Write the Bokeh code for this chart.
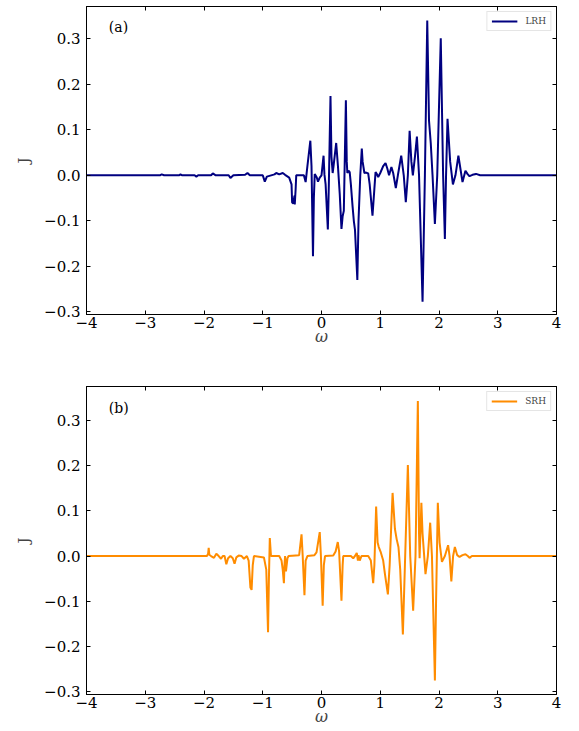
from bokeh.plotting import figure
from bokeh.models import (Range1d, FixedTicker, LinearAxis, Label, Legend, LegendItem,
                          CustomJSTickFormatter, CustomLabelingPolicy)
from bokeh.layouts import column
from bokeh.embed import file_html
from bokeh.resources import INLINE

# ---- data ----
lrh_w = [-4.0, -2.75, -2.72, -2.68, -2.42, -2.40, -2.37, -2.16, -2.13, -2.10, -1.88, -1.85, -1.80,
         -1.58, -1.55, -1.50, -1.30, -1.26, -1.22, -1.00, -0.965, -0.93, -0.80, -0.77, -0.72, -0.66,
         -0.62, -0.55, -0.51, -0.50, -0.48, -0.46, -0.455, -0.44, -0.43, -0.30, -0.27, -0.24, -0.19,
         -0.17, -0.145, -0.13, -0.115, -0.08, -0.06, -0.03, 0.0, 0.035, 0.05, 0.07, 0.108, 0.125,
         0.153, 0.17, 0.19, 0.205, 0.25, 0.28, 0.31, 0.34, 0.36, 0.38, 0.415, 0.43, 0.44, 0.46, 0.48,
         0.50, 0.53, 0.55, 0.57, 0.61, 0.63, 0.66, 0.686, 0.70, 0.73, 0.76, 0.795, 0.82, 0.868, 0.90,
         0.92, 0.945, 0.965, 1.00, 1.05, 1.09, 1.12, 1.15, 1.19, 1.22, 1.265, 1.30, 1.357, 1.40,
         1.435, 1.47, 1.50, 1.53, 1.555, 1.59, 1.624, 1.66, 1.72, 1.76, 1.80, 1.83, 1.86, 1.89, 1.93,
         1.97, 2.03, 2.07, 2.10, 2.12, 2.145, 2.19, 2.237, 2.28, 2.33, 2.37, 2.40, 2.43, 2.45, 2.49,
         2.52, 2.57, 2.63, 2.70, 4.0]
lrh_j = [0.0, 0.0, 0.002, 0.0, 0.0, 0.002, 0.0, 0.0, -0.003, 0.0, 0.0, 0.004, 0.0,
         0.0, -0.006, 0.0, 0.001, 0.005, 0.0, 0.0, -0.014, -0.003, 0.002, 0.005, 0.002, 0.005,
         0.001, -0.005, -0.02, -0.06, -0.062, -0.045, -0.064, -0.03, 0.0, 0.0, -0.015, 0.02, 0.076,
         0.02, -0.178, -0.05, 0.003, -0.005, -0.014, -0.005, 0.0, 0.043, 0.002, -0.02, -0.119, -0.02,
         0.174, 0.04, 0.005, 0.02, 0.071, 0.02, -0.04, -0.118, -0.09, -0.078, 0.165, 0.03, 0.005, 0.01, 0.007,
         -0.02, -0.07, -0.1, -0.12, -0.23, -0.1, 0.0, 0.059, 0.03, 0.005, 0.006, 0.004, -0.02, -0.089, -0.03,
         0.007, 0.002, -0.004, 0.005, 0.02, 0.027, 0.015, 0.0, 0.018, 0.005, -0.028, 0.0, 0.043, 0.0,
         -0.059, 0.0, 0.098, 0.03, 0.0, 0.04, 0.085, 0.0, -0.278, 0.0, 0.34, 0.12, 0.07, 0.0, -0.107,
         0.0, 0.301, 0.0, -0.14, 0.0, 0.124, 0.03, -0.02, 0.0, 0.043, 0.01, -0.015, 0.0, 0.01, 0.002,
         -0.002, 0.001, 0.003, 0.0, 0.0]

srh_w = [-4.0, -1.95, -1.93, -1.92, -1.91, -1.88, -1.83, -1.79, -1.75, -1.71, -1.68, -1.65, -1.62,
         -1.59, -1.55, -1.51, -1.48, -1.45, -1.41, -1.36, -1.32, -1.27, -1.24, -1.21, -1.19, -1.17,
         -1.15, -0.98, -0.94, -0.91, -0.895, -0.88, -0.86, -0.72, -0.68, -0.66, -0.64, -0.63, -0.62,
         -0.605, -0.58, -0.56, -0.38, -0.34, -0.32, -0.29, -0.27, -0.24, -0.12, -0.085, -0.03, -0.01,
         0.02, 0.04, 0.06, 0.20, 0.24, 0.277, 0.30, 0.34, 0.36, 0.37, 0.50, 0.54, 0.58, 0.60, 0.62,
         0.63, 0.65, 0.68, 0.795, 0.84, 0.88, 0.90, 0.93, 0.955, 0.975, 1.005, 1.05, 1.08, 1.13, 1.16,
         1.21, 1.25, 1.28, 1.31, 1.34, 1.385, 1.42, 1.47, 1.51, 1.56, 1.60, 1.64, 1.66, 1.67, 1.70,
         1.72, 1.77, 1.81, 1.85, 1.88, 1.93, 1.95, 1.98, 2.01, 2.05, 2.10, 2.155, 2.18, 2.21, 2.24,
         2.27, 2.31, 2.35, 2.40, 2.45, 2.49, 2.52, 2.56, 2.59, 4.0]
srh_j = [0.0, 0.0, 0.005, 0.018, 0.003, 0.0, -0.004, 0.005, 0.0, -0.006, 0.0, 0.0, -0.018,
         -0.005, 0.0, -0.005, -0.017, -0.003, 0.001, 0.0, -0.006, 0.0, -0.01, -0.07, -0.075, -0.02,
         0.0, -0.003, -0.03, -0.169, -0.05, 0.04, 0.0, 0.0, -0.01, -0.03, -0.06, -0.02, 0.0,
         -0.034, -0.005, 0.0, 0.002, 0.048, 0.0, -0.087, -0.01, 0.0, 0.002, 0.008, 0.053, 0.0,
         -0.11, -0.02, 0.0, 0.001, 0.01, 0.031, 0.01, -0.099, -0.02, 0.0, 0.0, -0.005, 0.002, 0.007, -0.01,
         0.002, -0.01, 0.0, 0.0, -0.01, -0.06, -0.02, 0.11, 0.03, 0.02, 0.01, -0.01, -0.04, -0.085, -0.02,
         0.14, 0.06, 0.037, 0.02, -0.03, -0.174, -0.02, 0.202, 0.0, -0.121, 0.0, 0.344, 0.05, -0.005, 0.118,
         0.05, -0.04, 0.0, 0.074, 0.0, -0.276, -0.1, 0.118, 0.03, -0.013, 0.0, 0.024, 0.0, -0.056, 0.0,
         0.02, 0.002, -0.002, 0.002, 0.004, 0.0, -0.004, 0.0, 0.0, 0.0]

x_ticks = [-4, -3, -2, -1, 0, 1, 2, 3, 4]
y_ticks = [-0.3, -0.2, -0.1, 0.0, 0.1, 0.2, 0.3]

FONT = "DejaVu Serif"

yfmt_code = "const a = Math.abs(tick).toFixed(1); return (tick < -1e-9 ? '\\u2212' : '') + a;"
xfmt_code = "const a = Math.abs(Math.round(tick)); return (tick < -1e-9 ? '\\u2212' : '') + a;"
hide_code = "for (const i of Array.from(indices)) { indices.set(i, false) } return indices;"


def style_axis(ax, show_labels):
    ax.major_tick_in = 4
    ax.major_tick_out = 0
    ax.minor_tick_in = 0
    ax.minor_tick_out = 0
    ax.axis_line_color = "black"
    ax.axis_line_width = 1
    ax.major_tick_line_color = "black"
    if show_labels:
        ax.major_label_text_font = FONT
        ax.major_label_text_font_size = "15px"
        ax.major_label_text_color = "black"
    else:
        ax.major_label_text_font_size = "1px"
        ax.major_label_standoff = 0
        ax.major_label_policy = CustomLabelingPolicy(code=hide_code)


def make_panel(w, j, color, name, tag, yr, height, bt, bb, tag_y):
    p = figure(width=568, height=height, output_backend="svg", toolbar_location=None,
               x_range=Range1d(-4, 4), y_range=Range1d(*yr),
               min_border_left=86, min_border_right=12, min_border_top=bt, min_border_bottom=bb)
    p.xgrid.visible = False
    p.ygrid.visible = False
    p.outline_line_color = "black"
    p.outline_line_width = 1
    r = p.line(w, j, line_color=color, line_width=2)

    xa = p.xaxis[0]
    xa.ticker = FixedTicker(ticks=x_ticks)
    xa.formatter = CustomJSTickFormatter(code=xfmt_code)
    style_axis(xa, True)
    xa.major_label_standoff = 2
    xa.axis_label = "ω"
    xa.axis_label_text_font = FONT
    xa.axis_label_text_font_style = "italic"
    xa.axis_label_text_font_size = "16px"
    xa.axis_label_standoff = -4

    ya = p.yaxis[0]
    ya.ticker = FixedTicker(ticks=y_ticks)
    ya.formatter = CustomJSTickFormatter(code=yfmt_code)
    style_axis(ya, True)
    ya.major_label_standoff = 6
    ya.axis_label = "J"
    ya.axis_label_text_font = FONT
    ya.axis_label_text_font_style = "normal"
    ya.axis_label_text_font_size = "15px"
    ya.axis_label_standoff = 8

    top = LinearAxis(ticker=FixedTicker(ticks=x_ticks))
    style_axis(top, False)
    p.add_layout(top, "above")
    right = LinearAxis(ticker=FixedTicker(ticks=y_ticks))
    style_axis(right, False)
    p.add_layout(right, "right")

    leg = Legend(items=[LegendItem(label=name, renderers=[r])], location="top_right")
    leg.label_text_font = FONT
    leg.label_text_font_size = "9px"
    leg.label_height = 10
    leg.glyph_height = 10
    leg.glyph_width = 26
    leg.label_standoff = 8
    leg.padding = 4
    leg.margin = 5
    leg.border_line_color = "#cccccc"
    leg.border_line_width = 1
    leg.background_fill_alpha = 0.8
    p.add_layout(leg)

    p.add_layout(Label(x=-3.62, y=tag_y, text=tag, text_font=FONT, text_font_size="14px",
                       text_baseline="middle", text_align="left", text_color="black"))
    return p


p1 = make_panel(lrh_w, lrh_j, "#000080", "LRH", "(a)", (-0.306, 0.371), 358, 6, 44, 0.325)
p2 = make_panel(srh_w, srh_j, "#FF8C00", "SRH", "(b)", (-0.307, 0.376), 373, 28, 37, 0.328)

layout = column(p1, p2)
open("out.html", "w").write(file_html(layout, INLINE))
